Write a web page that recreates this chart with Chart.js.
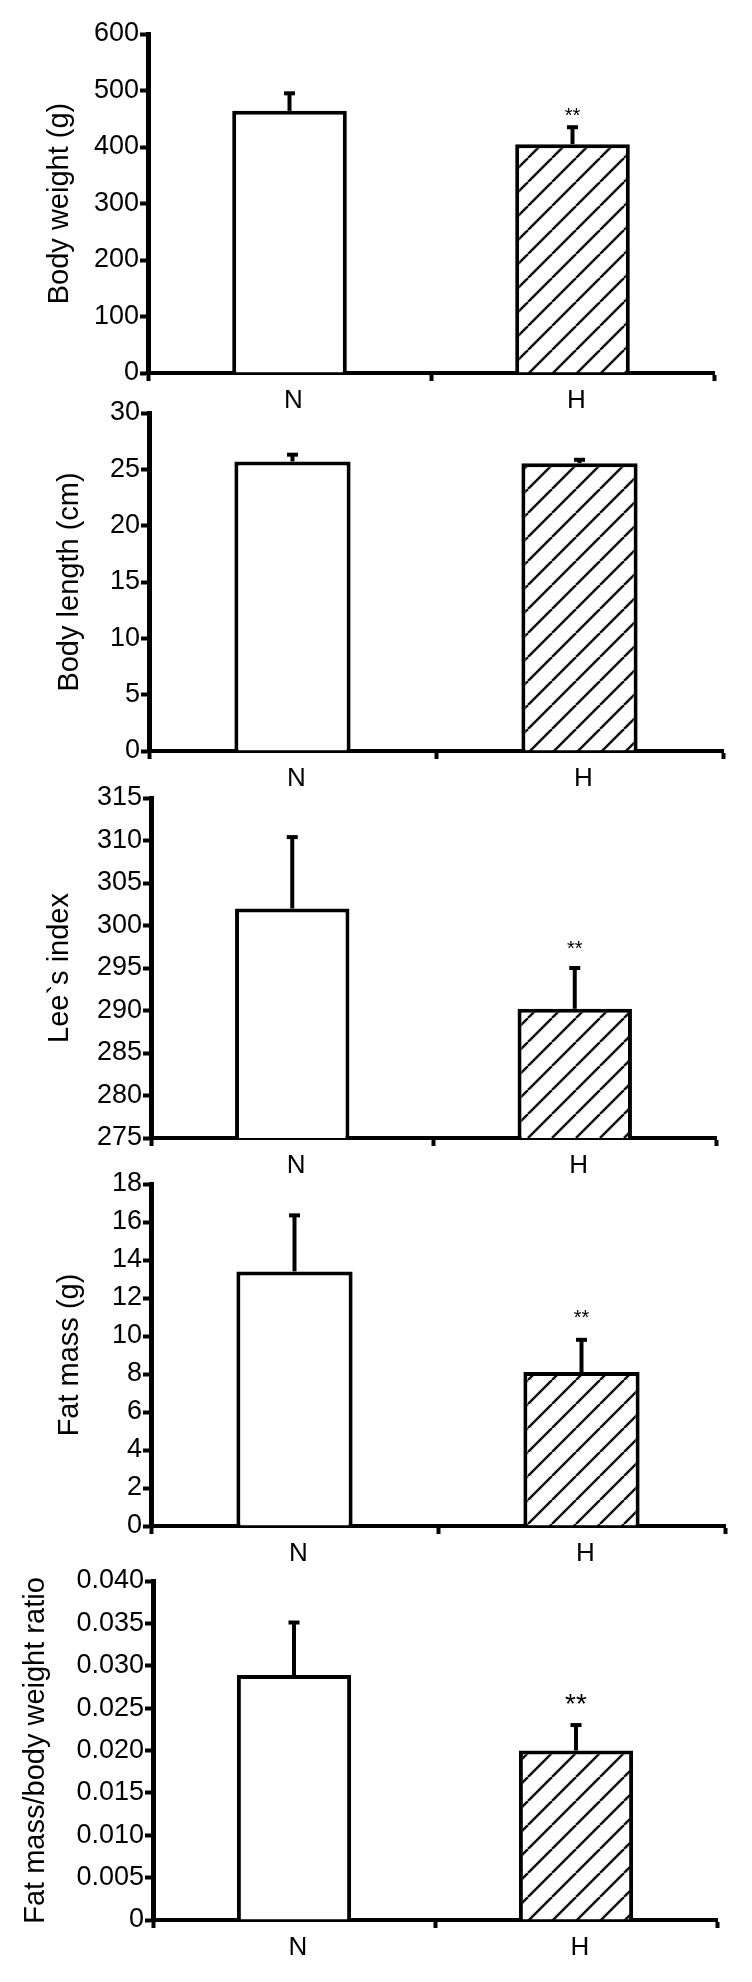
<!DOCTYPE html>
<html lang="en">
<head>
<meta charset="UTF-8">
<title>Body composition, N vs H</title>
<script src="https://cdn.jsdelivr.net/npm/chart.js"></script>
<style>
  body { margin: 0; background: #fff; }
  #wrap { position: relative; width: 752px; height: 1982px; }
  #wrap canvas { position: absolute; left: 0; }
</style>
</head>
<body>
<div id="wrap"></div>
<script>
const groups = ['N', 'H'];
const marks = ['', '**'];

const bodyWeight = [464, 405];
const bodyWeightErr = [31, 30];
const bodyWeightTicks = [0, 100, 200, 300, 400, 500, 600];

const bodyLength = [25.7, 25.55];
const bodyLengthErr = [0.6, 0.3];
const bodyLengthTicks = [0, 5, 10, 15, 20, 25, 30];

const leeIndex = [302.0, 290.2];
const leeIndexErr = [8.4, 4.8];
const leeIndexTicks = [275, 280, 285, 290, 295, 300, 305, 310, 315];

const fatMass = [13.4, 8.1];
const fatMassErr = [2.95, 1.7];
const fatMassTicks = [0, 2, 4, 6, 8, 10, 12, 14, 16, 18];

const fatRatio = [0.0289, 0.0200];
const fatRatioErr = [0.0062, 0.0030];
const fatRatioTicks = [0, 0.005, 0.010, 0.015, 0.020, 0.025, 0.030, 0.035, 0.040];

const FONT = '"Liberation Sans", Arial, Helvetica, sans-serif';

// one entry per stacked panel; layout numbers are pixel positions on the page
const panels = [
  { title: 'Body weight (g)', values: bodyWeight, err: bodyWeightErr, ticks: bodyWeightTicks, stars: marks,
    axisX: 148, top: 34, zero: 373, right: 714, titleX: 60, starSize: 20, starGap: 17 },
  { title: 'Body length (cm)', values: bodyLength, err: bodyLengthErr, ticks: bodyLengthTicks, stars: null,
    axisX: 149, top: 413, zero: 751, right: 723, titleX: 70, starSize: 20, starGap: 17 },
  { title: 'Lee`s index', values: leeIndex, err: leeIndexErr, ticks: leeIndexTicks, stars: marks,
    axisX: 151, top: 798, zero: 1138, right: 716, titleX: 60, starSize: 20, starGap: 24 },
  { title: 'Fat mass (g)', values: fatMass, err: fatMassErr, ticks: fatMassTicks, stars: marks,
    axisX: 151, top: 1184, zero: 1526, right: 725, titleX: 70, starSize: 20, starGap: 27 },
  { title: 'Fat mass/body weight ratio', values: fatRatio, err: fatRatioErr, ticks: fatRatioTicks, stars: marks,
    axisX: 153, top: 1581, zero: 1920, right: 717, titleX: 36, starSize: 28, starGap: 28, decimals: 3 }
];

function hatch() {
  const c = document.createElement('canvas');
  c.width = 24; c.height = 24;
  const g = c.getContext('2d');
  g.fillStyle = '#fff';
  g.fillRect(0, 0, 24, 24);
  g.strokeStyle = '#111';
  g.lineWidth = 2.5;
  for (const k of [-24, 0, 24]) {
    g.beginPath();
    g.moveTo(k, 24);
    g.lineTo(k + 24, 0);
    g.stroke();
  }
  return g.createPattern(c, 'repeat');
}

// upper error bar + significance stars over each bar
const errorBars = {
  id: 'errorBars',
  afterDatasetsDraw(chart, args, opts) {
    const { ctx, scales: { x, y } } = chart;
    const data = chart.data.datasets[0].data;
    ctx.save();
    ctx.strokeStyle = '#000';
    ctx.fillStyle = '#000';
    ctx.lineWidth = 4;
    data.forEach((v, i) => {
      const px = x.getPixelForValue(i);
      const y0 = y.getPixelForValue(v);
      const y1 = y.getPixelForValue(v + opts.err[i]);
      ctx.beginPath();
      ctx.moveTo(px, y0);
      ctx.lineTo(px, y1);
      ctx.stroke();
      ctx.fillRect(px - 5.5, y1 - 2, 11, 4);
      if (opts.stars && opts.stars[i]) {
        ctx.font = opts.starSize + 'px ' + FONT;
        ctx.textAlign = 'center';
        ctx.textBaseline = 'alphabetic';
        ctx.fillText(opts.stars[i], px, y1 - opts.starGap + 0.57 * opts.starSize);
      }
    });
    ctx.restore();
  }
};

const wrap = document.getElementById('wrap');
const pattern = hatch();

panels.forEach(p => {
  const canvasTop = p.top - 20;
  const xAxisH = 50;
  const canvas = document.createElement('canvas');
  canvas.width = 752;
  canvas.height = p.zero - canvasTop + xAxisH;
  canvas.style.top = canvasTop + 'px';
  wrap.appendChild(canvas);

  new Chart(canvas, {
    type: 'bar',
    data: {
      labels: groups,
      datasets: [{
        data: p.values,
        backgroundColor: ['#fff', pattern],
        borderColor: '#000',
        borderWidth: 4,
        barPercentage: 0.405,
        categoryPercentage: 1
      }]
    },
    options: {
      responsive: false,
      animation: false,
      layout: { padding: { top: p.top - canvasTop, left: 0, right: 752 - p.right, bottom: 0 } },
      plugins: {
        legend: { display: false },
        tooltip: { enabled: false },
        errorBars: { err: p.err, stars: p.stars, starSize: p.starSize, starGap: p.starGap }
      },
      scales: {
        x: {
          offset: true,
          grid: { display: true, offset: true, drawOnChartArea: false, drawTicks: true,
                  tickLength: 8, tickWidth: 4, tickColor: '#000' },
          border: { display: true, color: '#000', width: 4 },
          ticks: { color: '#000', padding: 4, labelOffset: 4, font: { family: FONT, size: 26 } },
          afterFit: s => { s.height = xAxisH; }
        },
        y: {
          min: p.ticks[0],
          max: p.ticks[p.ticks.length - 1],
          afterBuildTicks: s => { s.ticks = p.ticks.map(v => ({ value: v })); },
          grid: { display: true, drawOnChartArea: false, drawTicks: true,
                  tickLength: 8, tickWidth: 4, tickColor: '#000' },
          border: { display: true, color: '#000', width: 5 },
          ticks: {
            color: '#000', padding: 1, font: { family: FONT, size: 27 },
            callback: v => (p.decimals && v !== 0) ? v.toFixed(p.decimals) : String(v)
          },
          title: {
            display: true, text: p.title, color: '#000',
            font: { family: FONT, size: 29 },
            padding: { top: p.titleX - 17.4, bottom: 0 }
          },
          afterFit: s => { s.width = p.axisX; }
        }
      }
    },
    plugins: [errorBars]
  });
});
</script>
</body>
</html>
